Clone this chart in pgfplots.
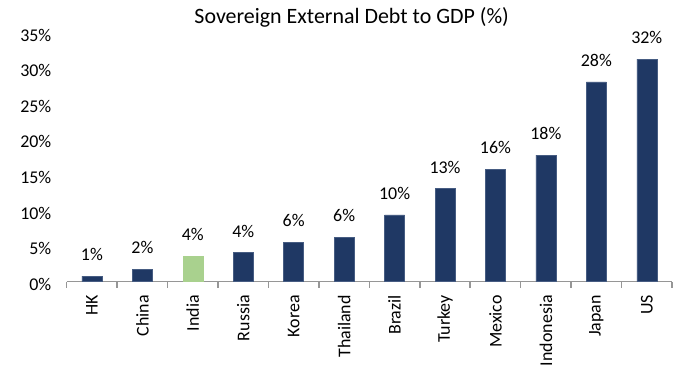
\documentclass[border=0pt]{standalone}
\usepackage{fontspec}
\setmainfont{Carlito}
\usepackage{pgfplots}
\pgfplotsset{compat=1.18}
\definecolor{navy}{RGB}{31,56,100}
\definecolor{navyedge}{RGB}{70,92,130}
\definecolor{igreen}{RGB}{169,209,142}
\definecolor{axgray}{RGB}{150,150,150}
\begin{document}
\fontsize{18}{22}\selectfont
\begin{tikzpicture}
\useasboundingbox (-66.7bp,-86.3bp) rectangle (611.3bp,281.7bp);
\begin{axis}[
  at={(0,0)}, anchor=south west,
  scale only axis, width=605.3bp, height=249bp,
  xmin=-0.5, xmax=11.5, ymin=0, ymax=35,
  axis x line*=bottom, axis y line*=left,
  y axis line style={draw=none},
  x axis line style={axgray, line width=1.5pt},
  ytick={0,5,...,35},
  yticklabels={0\%,5\%,10\%,15\%,20\%,25\%,30\%,35\%},
  major y tick style={draw=none},
  yticklabel style={xshift=-5bp, yshift=-2.5bp},
  xtick={0,...,11},
  xticklabels={HK,China,India,Russia,Korea,Thailand,Brazil,Turkey,Mexico,Indonesia,Japan,US},
  xticklabel style={rotate=90, anchor=east, xshift=-3bp},
  major x tick style={draw=none},
  minor xtick={-0.5,0.5,...,11.5},
  minor x tick style={axgray, line width=1.5pt},
  tick align=outside, minor tick length=6bp,
  tick label style={font=\fontsize{18}{22}\selectfont},
  bar width=20bp,
  ybar, bar shift=0pt,
  nodes near coords, point meta=explicit symbolic,
  every node near coord/.append style={font=\fontsize{18}{22}\selectfont, yshift=9bp, text=black},
]
\addplot[fill=navy, draw=navyedge, line width=0.5pt] coordinates {
  (0,0.8) [1\%]
  (1,1.75) [2\%]
  (3,4.1) [4\%]
  (4,5.55) [6\%]
  (5,6.25) [6\%]
  (6,9.4) [10\%]
  (7,13.1) [13\%]
  (8,15.8) [16\%]
  (9,17.8) [18\%]
  (10,28.1) [28\%]
  (11,31.3) [32\%]
};
\addplot[fill=igreen, draw=igreen, line width=0.5pt] coordinates {
  (2,3.6) [4\%]
};
\end{axis}
\node[anchor=base, font=\fontsize{22}{26}\selectfont] at (285bp,257.7bp) {Sovereign External Debt to GDP (\%)};
\end{tikzpicture}
\end{document}
